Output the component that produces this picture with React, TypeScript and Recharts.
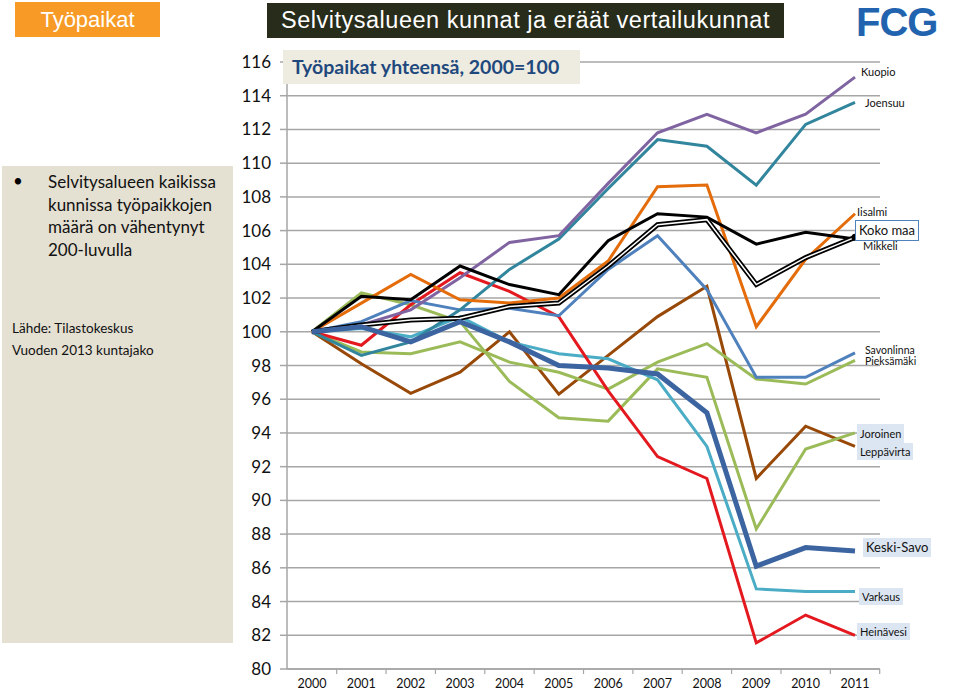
import React from "react";
import { LineChart, Line, XAxis, YAxis, CartesianGrid } from "recharts";

const years = ["2000", "2001", "2002", "2003", "2004", "2005", "2006", "2007", "2008", "2009", "2010", "2011"];
const yTicks = [80, 82, 84, 86, 88, 90, 92, 94, 96, 98, 100, 102, 104, 106, 108, 110, 112, 114, 116];

const kuopio = [100, 100.4, 101.3, 103.2, 105.3, 105.7, 108.8, 111.8, 112.9, 111.8, 112.9, 115.1];
const joensuu = [100, 98.6, 99.4, 101.3, 103.7, 105.5, 108.5, 111.4, 111.0, 108.7, 112.3, 113.6];
const iisalmi = [100, 101.7, 103.4, 101.9, 101.7, 102.0, 104.2, 108.6, 108.7, 100.3, 104.3, 107.0];
const mikkeli = [100, 102.1, 101.9, 103.9, 102.8, 102.2, 105.4, 107.0, 106.8, 105.2, 105.9, 105.5];
const kokoMaa = [100, 100.4, 100.7, 100.8, 101.5, 101.7, 103.9, 106.35, 106.65, 102.8, 104.4, 105.6];
const savonlinna = [100, 100.6, 101.85, 101.3, 101.4, 100.95, 103.7, 105.7, 102.5, 97.3, 97.3, 98.75];
const pieksamaki = [100, 98.8, 98.7, 99.4, 98.2, 97.6, 96.6, 98.2, 99.3, 97.2, 96.9, 98.3];
const joroinen = [100, 102.3, 101.6, 100.6, 97.05, 94.9, 94.7, 97.8, 97.3, 88.3, 93.05, 94.0];
const leppavirta = [100, 98.1, 96.35, 97.6, 100.0, 96.3, 98.6, 100.9, 102.7, 91.3, 94.4, 93.2];
const keskiSavo = [100, 100.3, 99.4, 100.6, 99.4, 98.0, 97.85, 97.5, 95.2, 86.1, 87.2, 87.0];
const varkaus = [100, 100.2, 99.7, 100.9, 99.4, 98.7, 98.4, 97.15, 93.2, 84.75, 84.6, 84.6];
const heinavesi = [100, 99.2, 101.6, 103.5, 102.4, 100.9, 96.5, 92.6, 91.3, 81.55, 83.2, 82.0];

const data = years.map((year, i) => ({
  year,
  kuopio: kuopio[i],
  joensuu: joensuu[i],
  iisalmi: iisalmi[i],
  mikkeli: mikkeli[i],
  kokoMaa: kokoMaa[i],
  savonlinna: savonlinna[i],
  pieksamaki: pieksamaki[i],
  joroinen: joroinen[i],
  leppavirta: leppavirta[i],
  keskiSavo: keskiSavo[i],
  varkaus: varkaus[i],
  heinavesi: heinavesi[i],
}));

const thin = [
  { key: "leppavirta", color: "#984807" },
  { key: "joroinen", color: "#9BBB59" },
  { key: "pieksamaki", color: "#9BBB59" },
  { key: "varkaus", color: "#4BACC6" },
  { key: "heinavesi", color: "#E3191F" },
  { key: "savonlinna", color: "#4F81BD" },
  { key: "joensuu", color: "#31859C" },
  { key: "kuopio", color: "#8064A2" },
  { key: "iisalmi", color: "#E46C0A" },
];

const font = "Lato, 'Open Sans', sans-serif";
const sans = "'Liberation Sans', Arial, sans-serif";

const XTick = (props: any) => {
  const { x, y, payload } = props;
  return (
    <g>
      <line x1={x + 24.7} x2={x + 24.7} y1={y - 8} y2={y - 3} stroke="#A6A6A6" strokeWidth={1.2} />
      <text x={x} y={y + 11} textAnchor="middle" fill="#111" fontSize={12.5} fontFamily={font}>
        {payload.value}
      </text>
    </g>
  );
};

const tag = (text: string, left: number, top: number, opts: any = {}) => (
  <div
    style={{
      position: "absolute",
      left,
      top,
      fontFamily: font,
      fontSize: opts.size || 11,
      lineHeight: `${opts.h || 17}px`,
      padding: "0 3px",
      background: opts.bg || "transparent",
      border: opts.border || "none",
      color: "#111",
      whiteSpace: "nowrap",
    }}
  >
    {text}
  </div>
);

export default function App() {
  return (
    <div style={{ position: "absolute", left: 0, top: 0, width: 960, height: 693, background: "#fff", overflow: "hidden" }}>
      <LineChart width={960} height={693} data={data} margin={{ top: 62, right: 80, bottom: 0, left: 0 }}>
        <CartesianGrid vertical={false} stroke="#A6A6A6" strokeWidth={1.5} />
        <XAxis
          dataKey="year"
          height={24}
          padding={{ left: 25, right: 25 }}
          stroke="#A6A6A6"
          strokeWidth={1.5}
          tickLine={false}
          tick={XTick}
          interval={0}
        />
        <YAxis
          width={287}
          domain={[80, 116]}
          ticks={yTicks}
          interval={0}
          stroke="#A6A6A6"
          strokeWidth={1.5}
          tickSize={7}
          tickMargin={9}
          tick={{ fill: "#111", fontSize: 17, fontFamily: font }}
        />
        {thin.map((s) => (
          <Line
            key={s.key}
            type="linear"
            dataKey={s.key}
            stroke={s.color}
            strokeWidth={3}
            dot={false}
            isAnimationActive={false}
          />
        ))}
        <Line key="mikkeli" type="linear" dataKey="mikkeli" stroke="#000" strokeWidth={3} dot={false} isAnimationActive={false} />
        <Line
          key="kokoMaaOuter"
          type="linear"
          dataKey="kokoMaa"
          stroke="#000"
          strokeWidth={5}
          dot={(p: any) =>
            p.index === years.length - 1 ? (
              <circle key="end" cx={p.cx} cy={p.cy} r={3.5} fill="#000" />
            ) : (
              <g key={p.index} />
            )
          }
          isAnimationActive={false}
        />
        <Line key="kokoMaaInner" type="linear" dataKey="kokoMaa" stroke="#fff" strokeWidth={1.5} dot={false} isAnimationActive={false} />
        <Line key="keskiSavo" type="linear" dataKey="keskiSavo" stroke="#3B64A0" strokeWidth={5} dot={false} isAnimationActive={false} />
      </LineChart>

      <div
        style={{
          position: "absolute", left: 15, top: 2, width: 145, height: 35, background: "#F79A26",
          color: "#fff", fontFamily: sans, fontSize: 22, lineHeight: "35px", textAlign: "center",
        }}
      >
        Työpaikat
      </div>
      <div
        style={{
          position: "absolute", left: 267, top: 3, width: 517, height: 35, background: "#282C1B",
          color: "#fff", fontFamily: sans, fontSize: 23.5, letterSpacing: 0.5, lineHeight: "35px", textAlign: "center",
          whiteSpace: "nowrap",
        }}
      >
        Selvitysalueen kunnat ja eräät vertailukunnat
      </div>
      <div
        style={{
          position: "absolute", left: 856, top: 2, color: "#2163AE", whiteSpace: "nowrap",
          fontFamily: sans, fontWeight: 700, fontSize: 40, lineHeight: "40px", letterSpacing: -1,
        }}
      >
        FCG
      </div>
      <div style={{ position: "absolute", left: 2, top: 166, width: 231, height: 477, background: "#E4E0D2" }}>
        <div style={{ position: "absolute", left: 11, top: 4, fontFamily: font, fontSize: 17 }}>•</div>
        <div style={{ position: "absolute", left: 46, top: 5, fontFamily: font, fontSize: 17, lineHeight: "22.5px", color: "#111" }}>
          Selvitysalueen kaikissa
          <br />
          kunnissa työpaikkojen
          <br />
          määrä on vähentynyt
          <br />
          200-luvulla
        </div>
        <div style={{ position: "absolute", left: 10, top: 151, fontFamily: font, fontSize: 13.5, lineHeight: "22px", color: "#111" }}>
          Lähde: Tilastokeskus
          <br />
          Vuoden 2013 kuntajako
        </div>
      </div>
      <div
        style={{
          position: "absolute", left: 283, top: 50, width: 297, height: 34, background: "#EEECE1",
          color: "#1F497D", fontFamily: font, fontWeight: 700, fontSize: 19.5, lineHeight: "34px", paddingLeft: 9,
          boxSizing: "border-box", whiteSpace: "nowrap",
        }}
      >
        Työpaikat yhteensä, 2000=100
      </div>

      {tag("Kuopio", 858, 63)}
      {tag("Joensuu", 862, 94)}
      {tag("Iisalmi", 854, 203)}
      {tag("Koko maa", 855, 220, { size: 13, h: 19, border: "1.5px solid #4F81BD", bg: "#fff" })}
      {tag("Mikkeli", 860, 237)}
      {tag("Savonlinna", 862, 345, { size: 10.5, h: 11 })}
      {tag("Pieksämäki", 862, 356, { size: 10.5, h: 11 })}
      {tag("Joroinen", 857, 424, { bg: "#DCE6F2", h: 19 })}
      {tag("Leppävirta", 857, 443, { bg: "#DCE6F2", h: 17 })}
      {tag("Keski-Savo", 863, 538, { bg: "#DCE6F2", size: 13, h: 19 })}
      {tag("Varkaus", 859, 588, { bg: "#DCE6F2", h: 17 })}
      {tag("Heinävesi", 857, 623, { bg: "#DCE6F2", h: 17 })}
    </div>
  );
}
